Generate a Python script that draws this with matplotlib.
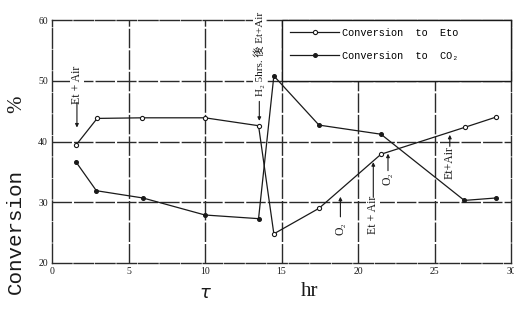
import matplotlib
matplotlib.use('Agg')
from matplotlib import pyplot as plt
from matplotlib.patches import Rectangle

# data
tau_eto = [1.6, 2.95, 5.9, 10.0, 13.5, 14.5, 17.45, 21.5, 27.0, 29.0]
conv_eto = [39.5, 43.8, 43.9, 43.9, 42.6, 24.8, 29.0, 37.9, 42.35, 44.0]
tau_co2 = [1.55, 2.9, 5.95, 10.0, 13.5, 14.5, 17.45, 21.5, 26.95, 29.0]
conv_co2 = [36.7, 31.9, 30.7, 27.9, 27.3, 50.8, 42.7, 41.2, 30.3, 30.7]
x_ticks = [0, 5, 10, 15, 20, 25, 30]
y_ticks = [20, 30, 40, 50, 60]

serif = ['Liberation Serif', 'DejaVu Serif', 'Noto Sans CJK JP']
mono = ['Liberation Mono', 'DejaVu Sans Mono']
ink = '#1a1a1a'
gridc = '#2a2a2a'
dash = (0, (14, 1.5))

fig = plt.figure(figsize=(5.14, 3.12), dpi=100)
ax = fig.add_axes([52/514, 1-263/312, (511-52)/514, (263-20)/312])

#-------------------------------------
# grid (legend box hides the upper right part)
#-------------------------------------
for gx in [5, 10, 15, 20, 25]:
    ax.axvline(gx, color=gridc, lw=1.0, ls=dash, zorder=1)
for gy in [30, 40, 50]:
    ax.axhline(gy, color=gridc, lw=1.0, ls=dash, zorder=1)

#-------------------------------------
# series
#-------------------------------------
l1, = ax.plot(tau_eto, conv_eto, '-', color=ink, lw=0.9, marker='o', ms=3,
              mfc='white', mec=ink, mew=0.8, zorder=3, label='Conversion  to  Eto')
l2, = ax.plot(tau_co2, conv_co2, '-', color=ink, lw=0.9, marker='o', ms=2.6,
              mfc=ink, mec=ink, zorder=3, label='Conversion  to  CO₂')

# legend box
ax.add_patch(Rectangle((15, 50), 15, 10, facecolor='white', edgecolor=ink,
                       lw=1.0, zorder=4, clip_on=False))
leg = ax.legend(handles=[l1, l2], loc='center left', bbox_to_anchor=(14.95, 52, 15, 8),
                bbox_transform=ax.transData, frameon=False, numpoints=1,
                handlelength=4.8, handletextpad=0.3, labelspacing=1.25,
                prop={'family': mono, 'size': 7.4})
leg.set_zorder(5)

#-------------------------------------
# annotations
#-------------------------------------
tb = dict(facecolor='white', edgecolor='none', pad=0.6)
arw = dict(arrowstyle='-|>', lw=0.8, color=ink, mutation_scale=5, shrinkA=0, shrinkB=0)

def note(s, x, y, tail, tip, size=8):
    ax.text(x, y, s, rotation=90, ha='center', va='center', family=serif,
            size=size, color=ink, bbox=tb, zorder=6, clip_on=False)
    ax.annotate('', xy=(x, tip), xytext=(x, tail), arrowprops=arw, zorder=6)

note('Et + Air', 1.63, 49.4, 46.4, 42.3, size=8.5)
note('H₂ 5hrs. 後 Et+Air', 13.55, 54.4, 46.6, 43.4, size=8)
note('O₂', 18.85, 25.6, 27.6, 30.9, size=8.5)
note('Et + Air', 21.0, 27.9, 30.8, 36.6, size=8.5)
note('O₂', 21.96, 33.8, 35.2, 38.0, size=8.5)
note('Et+Air', 26.0, 36.5, 39.2, 41.1, size=8.5)

#-------------------------------------
# axes
#-------------------------------------
ax.set_xlim(0, 30)
ax.set_ylim(20, 60)
ax.set_xticks(x_ticks)
ax.set_yticks(y_ticks)
ax.set_xticklabels([str(v) for v in x_ticks], family=serif, size=7)
ax.set_yticklabels([str(v) for v in y_ticks], family=serif, size=7)
ax.tick_params(length=0, pad=3, colors=ink)
for sp in ax.spines.values():
    sp.set_color(gridc)
    sp.set_linewidth(1.0)
    sp.set_linestyle(dash)

fig.text(15/514, 1-232/312, 'Conversion', rotation=90, ha='center', va='center',
         family=mono, size=15, color=ink)
fig.text(17/514, 1-104/312, '%', rotation=90, ha='center', va='center',
         family=serif, size=15, color=ink)
fig.text(205/514, 1-293/312, r'$\tau$', ha='center', va='center', size=13, color=ink)
fig.text(310/514, 1-292/312, 'hr', ha='center', va='center', family=serif,
         size=15, color=ink)

fig.savefig('out.png', dpi=100)
